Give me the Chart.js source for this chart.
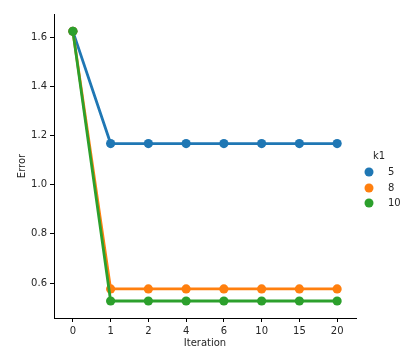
<!DOCTYPE html>
<html>
<head>
<meta charset="utf-8">
<script src="https://cdn.jsdelivr.net/npm/chart.js@4/dist/chart.umd.min.js"></script>
<style>
html,body{margin:0;padding:0;background:#fff;}
#wrap{width:408px;height:360px;}
</style>
</head>
<body>
<div id="wrap"><canvas id="c" width="408" height="360"></canvas></div>
<script>
const iterations = ["0", "1", "2", "4", "6", "10", "15", "20"];
const k1Labels = ["5", "8", "10"];
const errK5  = [1.623, 1.167, 1.167, 1.167, 1.167, 1.167, 1.167, 1.167];
const errK8  = [1.623, 0.576, 0.576, 0.576, 0.576, 0.576, 0.576, 0.576];
const errK10 = [1.623, 0.527, 0.527, 0.527, 0.527, 0.527, 0.527, 0.527];
const yTicks = [0.6, 0.8, 1.0, 1.2, 1.4, 1.6];
const colors = ["#1f77b4", "#ff7f0e", "#2ca02c"];
const seriesValues = [errK5, errK8, errK10];

const FONT = "'DejaVu Sans', sans-serif";
const TXT = "#262626";

const legendPlugin = {
  id: 'sideLegend',
  afterDraw(chart) {
    const ctx = chart.ctx;
    ctx.save();
    ctx.font = "10px " + FONT;
    ctx.fillStyle = TXT;
    ctx.textBaseline = 'middle';
    ctx.textAlign = 'center';
    ctx.fillText("k1", 379, 156);
    const ys = [172, 188, 203];
    k1Labels.forEach((lab, i) => {
      ctx.beginPath();
      ctx.arc(369, ys[i], 4.5, 0, Math.PI * 2);
      ctx.fillStyle = colors[i];
      ctx.fill();
      ctx.fillStyle = TXT;
      ctx.textAlign = 'left';
      ctx.fillText(lab, 388, ys[i]);
    });
    ctx.restore();
  }
};

new Chart(document.getElementById('c'), {
  type: 'line',
  data: {
    labels: iterations,
    datasets: seriesValues.map((vals, i) => ({
      label: k1Labels[i],
      data: vals,
      borderColor: colors[i],
      backgroundColor: colors[i],
      pointBackgroundColor: colors[i],
      pointBorderColor: colors[i],
      borderWidth: 2.8,
      pointRadius: 4.6,
      pointBorderWidth: 0,
      tension: 0,
      fill: false,
      order: 3 - i
    }))
  },
  options: {
    responsive: false,
    animation: false,
    events: [],
    layout: { padding: { left: 0, top: 14, right: 52, bottom: 0 } },
    plugins: { legend: { display: false }, tooltip: { enabled: false } },
    scales: {
      x: {
        type: 'category',
        offset: true,
        grid: { display: true, drawOnChartArea: false, drawTicks: true, tickLength: 4, color: '#000', lineWidth: 1 },
        border: { display: true, color: '#000', width: 1 },
        ticks: { color: TXT, font: { family: FONT, size: 10 }, padding: 3, maxRotation: 0, autoSkip: false },
        title: { display: true, text: 'Iteration', color: TXT, font: { family: FONT, size: 10 }, padding: { top: 0, bottom: 11 } },
        afterFit(scale) { scale.height = 42; }
      },
      y: {
        type: 'linear',
        min: 0.458,
        max: 1.6935,
        grid: { display: true, drawOnChartArea: false, drawTicks: true, tickLength: 4, color: '#000', lineWidth: 1 },
        border: { display: true, color: '#000', width: 1 },
        ticks: { color: TXT, font: { family: FONT, size: 10 }, padding: 3, callback: v => v.toFixed(1) },
        afterBuildTicks(scale) { scale.ticks = yTicks.map(v => ({ value: v })); },
        title: { display: true, text: 'Error', color: TXT, font: { family: FONT, size: 10 }, padding: { top: 16, bottom: 0 } },
        afterFit(scale) { scale.width = 54; }
      }
    }
  },
  plugins: [legendPlugin]
});
</script>
</body>
</html>
